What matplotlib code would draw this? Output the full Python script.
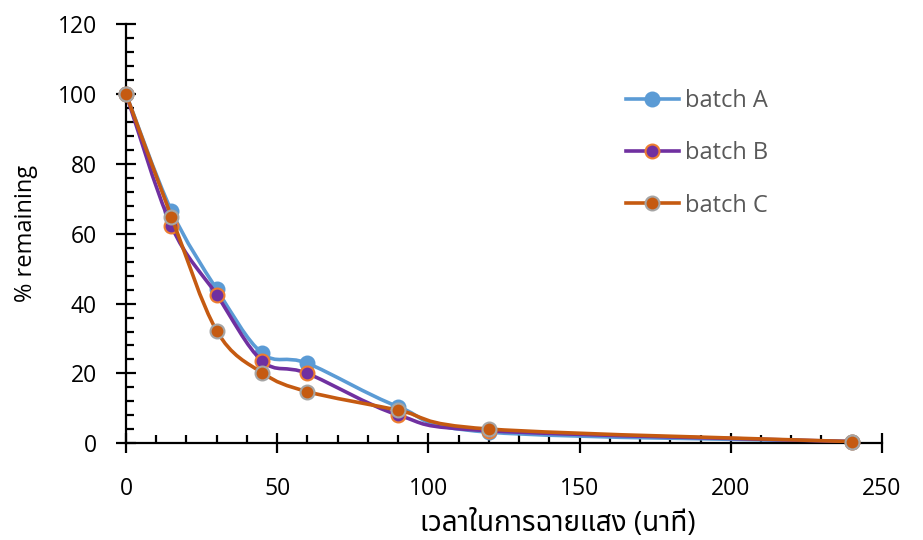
import matplotlib
matplotlib.use("Agg")
import matplotlib.pyplot as plt
import numpy as np
from matplotlib.path import Path
from matplotlib.patches import PathPatch
from matplotlib.lines import Line2D
from matplotlib.ticker import MultipleLocator

plt.rcParams["font.family"] = ["Open Sans", "Noto Sans Thai", "Noto Sans", "DejaVu Sans"]

minutes = [0, 15, 30, 45, 60, 90, 120, 240]
batch_a = [100, 66.6, 44.1, 25.8, 22.9, 10.5, 3.2, 0.5]
batch_b = [100, 62.2, 42.5, 23.6, 20.0, 8.1, 3.6, 0.5]
batch_c = [100, 64.9, 32.2, 20.2, 14.8, 9.5, 4.1, 0.5]
labels = ["batch A", "batch B", "batch C"]

LINE = ["#5B9BD5", "#7030A0", "#C55A11"]
FACE = ["#5B9BD5", "#7030A0", "#C55A11"]
EDGE = ["#5B9BD5", "#ED7D31", "#A5A5A5"]


def smooth_path(x, y):
    # Excel-style smoothed line: Catmull-Rom through the points as cubic beziers
    p = np.column_stack([x, y]).astype(float)
    verts = [p[0]]
    codes = [Path.MOVETO]
    n = len(p)
    for i in range(n - 1):
        p0 = p[i - 1] if i > 0 else p[i]
        p1, p2 = p[i], p[i + 1]
        p3 = p[i + 2] if i + 2 < n else p[i + 1]
        verts += [p1 + (p2 - p0) / 6, p2 - (p3 - p1) / 6, p2]
        codes += [Path.CURVE4] * 3
    return Path(verts, codes)


fig = plt.figure(figsize=(9.23, 5.4), dpi=100)
ax = fig.add_axes([0.1365, 0.179, 0.819, 0.7766])

handles = []
for i, ys in enumerate([batch_a, batch_b, batch_c]):
    ax.add_patch(PathPatch(smooth_path(minutes, ys), facecolor="none",
                           edgecolor=LINE[i], lw=2.6, capstyle="round", zorder=2 + i))
    ax.plot(minutes, ys, ls="none", marker="o", ms=10, mfc=FACE[i],
            mec=EDGE[i], mew=1.5, zorder=2 + i, clip_on=False)
    handles.append(Line2D([], [], color=LINE[i], lw=2.6, marker="o", ms=10,
                          mfc=FACE[i], mec=EDGE[i], mew=1.5))

ax.set_xlim(0, 250)
ax.set_ylim(0, 120)
ax.xaxis.set_major_locator(MultipleLocator(50))
ax.xaxis.set_minor_locator(MultipleLocator(10))
ax.yaxis.set_major_locator(MultipleLocator(20))
ax.yaxis.set_minor_locator(MultipleLocator(4))
for s in ["top", "right"]:
    ax.spines[s].set_visible(False)
for s in ["left", "bottom"]:
    ax.spines[s].set_linewidth(1.6)
ax.tick_params(which="major", direction="inout", length=14, width=1.6,
               labelsize=16.5, colors="black")
ax.tick_params(axis="x", which="major", pad=17)
ax.tick_params(axis="y", which="major", pad=14)
ax.tick_params(which="minor", direction="in", length=5.5, width=1.6)

ax.set_xlabel("เวลาในการฉายแสง (นาที)", fontsize=20)
ax.xaxis.set_label_coords(0.571, -0.158)
ax.set_ylabel("% remaining", fontsize=17, labelpad=14)

leg = ax.legend(handles, labels, loc="center left", bbox_to_anchor=(0.678, 0.716),
                bbox_transform=fig.transFigure, borderpad=0, borderaxespad=0,
                frameon=False, fontsize=17, handlelength=2.25, handletextpad=0.25,
                labelspacing=1.2, labelcolor="#595959")

fig.savefig("out.png", dpi=100, facecolor="white")
